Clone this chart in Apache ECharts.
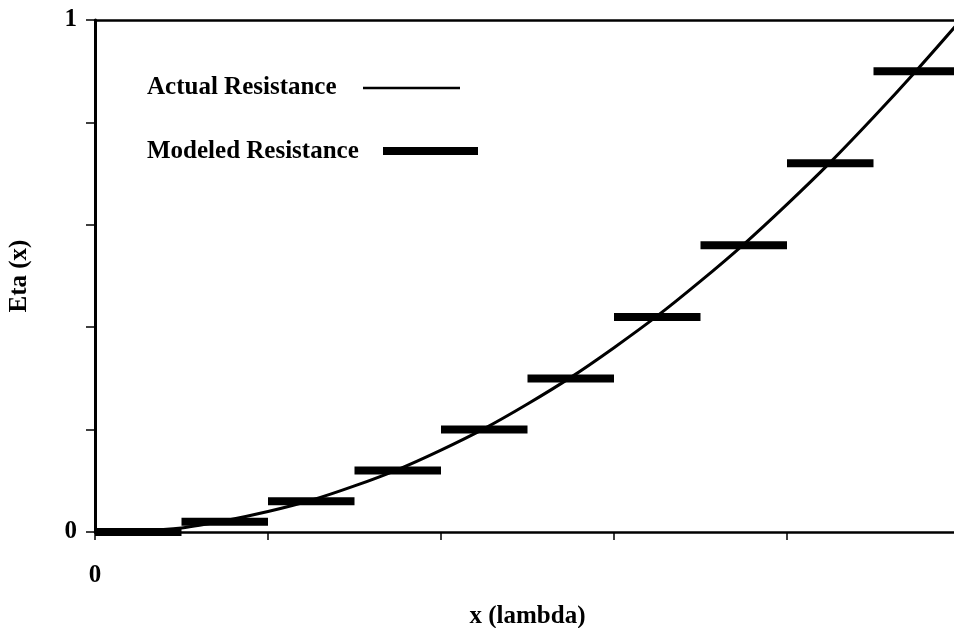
<!DOCTYPE html>
<html>
<head>
<meta charset="utf-8">
<script src="https://cdn.jsdelivr.net/npm/echarts@6/dist/echarts.min.js"></script>
<style>
  html, body { margin: 0; padding: 0; background: #fff; }
  #chart { width: 954px; height: 628px; }
</style>
</head>
<body>
<div id="chart"></div>
<script>
// Piecewise-constant model: each step covers [start, end) of x at a fixed level
const stepStarts = [0.0, 0.1, 0.2, 0.3, 0.4, 0.5, 0.6, 0.7, 0.8, 0.9];
const stepEnds   = [0.1, 0.2, 0.3, 0.4, 0.5, 0.6, 0.7, 0.8, 0.9, 1.0];
const stepLevels = [0, 0.02, 0.06, 0.12, 0.2, 0.3, 0.42, 0.56, 0.72, 0.9];

// Actual resistance curve, sampled along x
const curveX = [0, 0.05, 0.1, 0.15, 0.2, 0.25, 0.3, 0.35, 0.4, 0.45, 0.5,
                0.55, 0.6, 0.65, 0.7, 0.75, 0.8, 0.85, 0.9, 0.95, 1.0];
const curveY = [0, 0.002, 0.008, 0.022, 0.04, 0.062, 0.09, 0.122, 0.16, 0.202, 0.25,
                0.302, 0.36, 0.422, 0.49, 0.562, 0.64, 0.722, 0.81, 0.902, 0.998];

// Only the end ticks carry text
const xTickLabels = ['0'];
const yTickLabels = ['0', '1'];

const seriesNames = ['Actual Resistance', 'Modeled Resistance'];
const xAxisTitle = 'x (lambda)';
const yAxisTitle = 'Eta (x)';

const FONT = 'Liberation Serif';
const FS = 25;
const FW = 'bold';

const chart = echarts.init(document.getElementById('chart'), null, { renderer: 'canvas' });

const stepData = stepStarts.map((s, i) => [s, stepEnds[i], stepLevels[i]]);
const curveData = curveX.map((x, i) => [x, curveY[i]]);

chart.setOption({
  animation: false,
  backgroundColor: '#ffffff',
  grid: { left: 95, right: -6, top: 20, bottom: 96, containLabel: false, outerBoundsMode: 'none' },
  xAxis: [{
    type: 'value', min: 0, max: 1, interval: 0.2,
    name: xAxisTitle, nameLocation: 'middle', nameGap: 72,
    nameTextStyle: { fontFamily: FONT, fontSize: FS, color: '#000', fontWeight: FW },
    axisLine: { show: true, lineStyle: { color: '#000', width: 2.5 } },
    axisTick: { show: true, inside: false, length: 8, lineStyle: { color: '#000', width: 1.5 } },
    axisLabel: {
      margin: 31, fontFamily: FONT, fontSize: FS, color: '#000', fontWeight: FW,
      formatter: v => (v === 0 ? xTickLabels[0] : '')
    },
    splitLine: { show: false }
  }, {
    type: 'value', position: 'top', min: 0, max: 1,
    axisLine: { show: true, lineStyle: { color: '#000', width: 2.5 } },
    axisTick: { show: false }, axisLabel: { show: false }, splitLine: { show: false }
  }],
  yAxis: {
    type: 'value', min: 0, max: 1, interval: 0.2,
    name: yAxisTitle, nameLocation: 'middle', nameGap: 63, nameRotate: 90,
    nameTextStyle: { fontFamily: FONT, fontSize: FS, color: '#000', fontWeight: FW },
    axisLine: { show: true, lineStyle: { color: '#000', width: 3 } },
    axisTick: { show: true, inside: false, length: 9, lineStyle: { color: '#000', width: 1.5 } },
    axisLabel: {
      margin: 18, fontFamily: FONT, fontSize: FS, color: '#000', fontWeight: FW,
      formatter: v => (v === 0 ? yTickLabels[0] : (v === 1 ? yTickLabels[1] : ''))
    },
    splitLine: { show: false }
  },
  series: [{
    name: seriesNames[1],
    type: 'custom',
    data: stepData,
    clip: false,
    renderItem: (params, api) => {
      const a = api.coord([api.value(0), api.value(2)]);
      const b = api.coord([api.value(1), api.value(2)]);
      return {
        type: 'line',
        shape: { x1: a[0], y1: a[1], x2: b[0], y2: b[1] },
        style: { stroke: '#000', lineWidth: 8, lineCap: 'butt' }
      };
    },
    z: 2
  }, {
    name: seriesNames[0],
    type: 'line',
    data: curveData,
    smooth: 0.3,
    showSymbol: false,
    lineStyle: { color: '#000', width: 3 },
    z: 3
  }],
  graphic: [
    { type: 'text', left: 147, top: 75,
      style: { text: seriesNames[0], fontFamily: FONT, fontSize: FS, fontWeight: FW, fill: '#000' } },
    { type: 'line', shape: { x1: 363, y1: 88, x2: 460, y2: 88 },
      style: { stroke: '#000', lineWidth: 2.5 } },
    { type: 'text', left: 147, top: 139,
      style: { text: seriesNames[1], fontFamily: FONT, fontSize: FS, fontWeight: FW, fill: '#000' } },
    { type: 'line', shape: { x1: 383, y1: 151, x2: 478, y2: 151 },
      style: { stroke: '#000', lineWidth: 8 } }
  ]
});
</script>
</body>
</html>
